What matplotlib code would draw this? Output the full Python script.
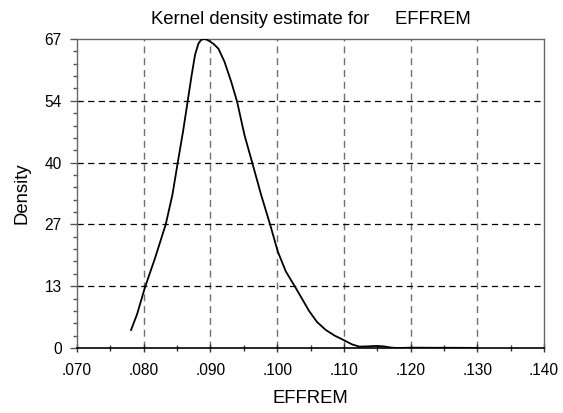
import matplotlib
matplotlib.use("Agg")
import matplotlib.pyplot as plt
from matplotlib.ticker import FixedLocator, FuncFormatter, MultipleLocator

plt.rcParams['font.family'] = ['Liberation Sans', 'DejaVu Sans']

# Kernel density curve
effrem = [0.0781, 0.0790, 0.0802, 0.0817, 0.0833, 0.0843, 0.0851, 0.0859, 0.0866,
          0.0872, 0.0877, 0.0882, 0.0886, 0.0890, 0.0894, 0.0899, 0.0905, 0.0912,
          0.0921, 0.0931, 0.0940, 0.0951, 0.0963, 0.0976, 0.0990, 0.1001, 0.1013,
          0.1028, 0.1048, 0.1060, 0.1073, 0.1086, 0.1100, 0.1112, 0.1123, 0.1135,
          0.1148, 0.1160, 0.1170, 0.1180, 0.1203, 0.1230, 0.1260, 0.1300]
density = [3.9, 7.3, 13.2, 19.5, 26.8, 33.2, 40.2, 47.0, 53.6,
           59.3, 63.6, 66.0, 66.8, 67.0, 66.9, 66.5, 65.9, 64.9,
           62.1, 57.8, 53.4, 46.2, 40.0, 33.2, 26.5, 20.9, 16.6,
           13.0, 8.0, 5.6, 3.9, 2.7, 1.7, 0.8, 0.3, 0.35,
           0.45, 0.35, 0.1, 0.0, 0.08, 0.05, 0.05, 0.02]

x_ticks = [0.070, 0.080, 0.090, 0.100, 0.110, 0.120, 0.130, 0.140]
y_max = 67
y_ticks = [0, 13.4, 26.8, 40.2, 53.6, 67]
y_tick_labels = ["0", "13", "27", "40", "54", "67"]

fig = plt.figure(figsize=(5.63, 4.13), dpi=100)
ax = fig.add_axes([77/563, 1-348/413, (544-77)/563, (348-39)/413])

ax.plot(effrem, density, color='black', lw=1.3, zorder=3)

ax.set_xlim(0.070, 0.140)
ax.set_ylim(0, y_max)

ax.xaxis.set_major_locator(FixedLocator(x_ticks))
ax.xaxis.set_minor_locator(MultipleLocator(0.005))
ax.xaxis.set_major_formatter(FuncFormatter(lambda v, p: f"{v:.3f}".lstrip('0')))
ax.yaxis.set_major_locator(FixedLocator(y_ticks))
ax.yaxis.set_major_formatter(FuncFormatter(lambda v, p: y_tick_labels[p] if p is not None and p < len(y_tick_labels) else f"{v:.0f}"))
ax.yaxis.set_minor_locator(MultipleLocator(y_max/25))

# gridlines
for xv in x_ticks[1:-1]:
    ax.axvline(xv, color='#707070', lw=1.0, ls=(0, (5, 3.5)), zorder=1)
for yv in y_ticks[1:-1]:
    ax.axhline(yv, color='black', lw=0.9, ls=(0, (5, 3.5)), zorder=1)

ax.tick_params(axis='x', which='major', direction='inout', length=6, width=1, labelsize=11.2, pad=7.5, colors='#333333', labelcolor='black')
ax.tick_params(axis='x', which='minor', direction='inout', length=5, width=1, colors='#333333')
ax.tick_params(axis='y', which='major', direction='out', length=5, width=1, labelsize=11.2, pad=6, colors='#555555', labelcolor='black')
ax.tick_params(axis='y', which='minor', direction='out', length=3, width=1, colors='#555555')

for s in ['left', 'top', 'right']:
    ax.spines[s].set_color('#666666')
    ax.spines[s].set_linewidth(1.0)
ax.spines['bottom'].set_color('black')
ax.spines['bottom'].set_linewidth(1.2)

ax.set_title("Kernel density estimate for     EFFREM", fontsize=13.3, pad=10.5)
ax.set_xlabel("EFFREM", fontsize=13.3, labelpad=9)
ax.set_ylabel("Density", fontsize=13.3, labelpad=10)

fig.savefig("out.png", dpi=100)
